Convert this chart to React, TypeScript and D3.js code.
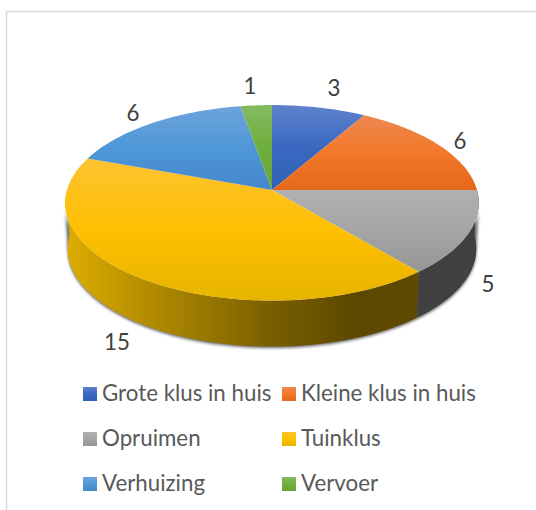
import React from "react";
import * as d3 from "d3";

const categories = ["Grote klus in huis", "Kleine klus in huis", "Opruimen", "Tuinklus", "Verhuizing", "Vervoer"];
const values = [3, 6, 5, 15, 6, 1];
const baseColors = ["#3a68c0", "#f4782a", "#a5a5a5", "#ffc000", "#4f97d8", "#6fae3e"];
const tintColors = ["#5f82cc", "#ec8850", "#b0b0b0", "#fcc232", "#6ea4dc", "#84bb62"];
const shadeColors = ["#3060b4", "#e4681a", "#969696", "#e6b400", "#4488c8", "#66a636"];
const sideColors = ["#2a4a80", "#a04f10", "#404040", "#7a5f00", "#2c6494", "#4a7a26"];

const yellowSideStops = [
  { o: 0, c: "#dcad00" },
  { o: 0.25, c: "#b08a00" },
  { o: 0.58, c: "#7a5f00" },
  { o: 0.82, c: "#5c4800" },
  { o: 1, c: "#604a00" },
];

const W = 536, H = 510;
const cx = 272, cy = 190, R = 205, K = 96.1, P = 0.131;
const depth = 46;

// perspective projection of a disc point at angle t (radians, clockwise from top)
const project = (t: number, r = 1, dy = 0, sx = 1): [number, number] => {
  const w = 1 + P * r * Math.cos(t);
  return [cx + (sx * R * r * Math.sin(t)) / w, cy + dy - (K * r * Math.cos(t)) / w];
};

const pie = d3.pie<number>().sort(null).value((d) => d);
const arcs = pie(values);
const line = d3.line();

const samples = (a: number, b: number) => {
  const n = Math.max(2, Math.ceil(Math.abs(b - a) / 0.02));
  return d3.range(n + 1).map((i) => a + ((b - a) * i) / n);
};

const topPath = (a: number, b: number) =>
  line([[cx, cy], ...samples(a, b).map((t) => project(t))])! + "Z";

const sidePath = (a: number, b: number) => {
  const ts = samples(a, b);
  return line([...ts.map((t) => project(t)), ...ts.slice().reverse().map((t) => project(t, 1, depth, 0.988))])! + "Z";
};

const labelAnchors: [number, number][] = [
  [334, 96], [460, 149], [488, 292], [117, 350], [133, 121], [250, 94],
];
const legendX = d3.scaleOrdinal<number, number>().domain([0, 1]).range([83, 282]);
const legendY = d3.scalePoint<number>().domain([0, 1, 2]).range([387, 477]);

export default function App() {
  const lo = Math.PI / 2, hi = (3 * Math.PI) / 2;
  const band = arcs
    .map((a, i) => ({ i, a: Math.max(a.startAngle, lo), b: Math.min(a.endAngle, hi) }))
    .filter((d) => d.b > d.a);
  const whole = sidePath(lo + 0.3, hi - 0.3);
  return (
    <svg width={W} height={H} style={{ position: "absolute", left: 0, top: 0, fontFamily: "Lato, sans-serif" }}>
      <defs>
        {baseColors.map((c, i) => (
          <linearGradient key={i} id={`top${i}`} x1="0" y1="0" x2="0" y2="1">
            <stop offset="0" stopColor={tintColors[i]} />
            <stop offset="0.5" stopColor={c} />
            <stop offset="1" stopColor={shadeColors[i]} />
          </linearGradient>
        ))}
        <linearGradient id="yside" gradientUnits="userSpaceOnUse" x1={66} x2={419} y1={0} y2={0}>
          {yellowSideStops.map((s) => (
            <stop key={s.o} offset={s.o} stopColor={s.c} />
          ))}
        </linearGradient>
        <filter id="blur" x="-10%" y="-10%" width="120%" height="120%">
          <feGaussianBlur stdDeviation="1.5" />
        </filter>
      </defs>
      <rect width={W} height={H} fill="#ffffff" />
      <path d={`M6.5 ${H}V11.5H${W}`} fill="none" stroke="#d9d9d9" strokeWidth={1.5} />
      <path d={sidePath(lo + 0.14, hi - 0.14)} fill="#000" opacity={0.6} filter="url(#blur)" transform="translate(0,1.5)" />
      {band.map((d) => (
        <path key={d.i} d={sidePath(d.a, d.b)} fill={d.i === 3 ? "url(#yside)" : sideColors[d.i]} />
      ))}
      {arcs.map((a, i) => (
        <path key={i} d={topPath(a.startAngle, a.endAngle)} fill={`url(#top${i})`} />
      ))}
      {values.map((v, i) => (
        <text key={i} x={labelAnchors[i][0]} y={labelAnchors[i][1]} textAnchor="middle" fontSize={22.3} fill="#404040">
          {v}
        </text>
      ))}
      {categories.map((c, i) => {
        const x = legendX(i % 2);
        const y = legendY(Math.floor(i / 2))!;
        return (
          <g key={c}>
            <rect x={x} y={y} width={14} height={14} fill={`url(#top${i})`} />
            <text x={x + 19} y={y + 14} fontSize={22.3} fill="#595959">
              {c}
            </text>
          </g>
        );
      })}
    </svg>
  );
}
